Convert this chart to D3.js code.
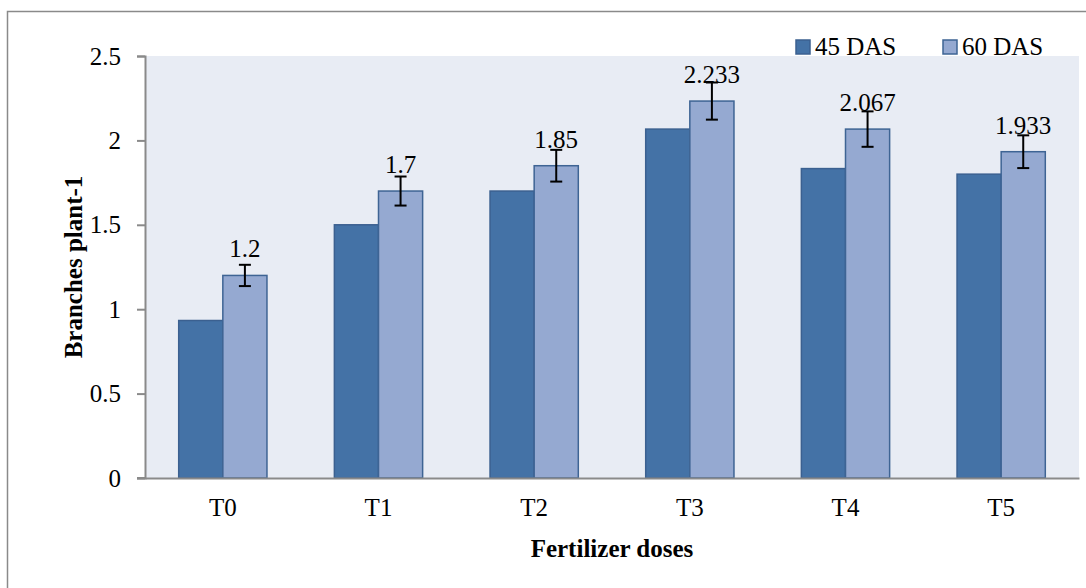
<!DOCTYPE html>
<html>
<head>
<meta charset="utf-8">
<script src="https://cdn.jsdelivr.net/npm/d3@7"></script>
<style>
  html, body { margin: 0; padding: 0; background: #fff; }
  svg { display: block; }
  svg text { font-family: "Liberation Serif", "Times New Roman", serif !important; }
</style>
</head>
<body>
<svg id="chart" width="1086" height="588"></svg>
<script>
const categories = ["T0", "T1", "T2", "T3", "T4", "T5"];
const seriesNames = ["45 DAS", "60 DAS"];
const das45 = [0.933, 1.5, 1.7, 2.067, 1.833, 1.8];
const das60 = [1.2, 1.7, 1.85, 2.233, 2.067, 1.933];
const das60Err = [0.063, 0.086, 0.094, 0.11, 0.105, 0.097];
const dataLabels = ["1.2", "1.7", "1.85", "2.233", "2.067", "1.933"];
const yTicks = [0, 0.5, 1, 1.5, 2, 2.5];

const FONT = "Liberation Serif, Times New Roman, serif";
const svg = d3.select("#chart");
const m = { left: 145, right: 1079, top: 56, bottom: 478 };

// outer border
svg.append("rect").attr("x", 7.5).attr("y", 11.5).attr("width", 1100).attr("height", 600)
  .attr("fill", "#fff").attr("stroke", "#8a8a8a").attr("stroke-width", 1.5);

const x = d3.scaleBand().domain(categories).range([m.left, m.right]).paddingInner(0).paddingOuter(0);
const y = d3.scaleLinear().domain([0, 2.5]).range([m.bottom, m.top]);
const barW = x.bandwidth() * 0.2835;

// plot background
svg.append("rect").attr("x", m.left).attr("y", m.top)
  .attr("width", m.right - m.left).attr("height", m.bottom - m.top)
  .attr("fill", "#E8ECF4");

const colors = ["#4472A6", "#95A9D1"];
const strokes = ["#3B6090", "#3E6494"];
const series = [das45, das60];

series.forEach((vals, si) => {
  svg.append("g").selectAll("rect").data(vals).join("rect")
    .attr("x", (d, i) => x(categories[i]) + x.bandwidth() / 2 - barW + si * barW)
    .attr("y", d => y(d))
    .attr("width", barW)
    .attr("height", d => y(0) - y(d))
    .attr("fill", colors[si])
    .attr("stroke", strokes[si])
    .attr("stroke-width", 1.5);
});

// error bars on 60 DAS
const eg = svg.append("g").attr("stroke", "#000").attr("stroke-width", 2);
das60.forEach((v, i) => {
  const cx = x(categories[i]) + x.bandwidth() / 2 + barW / 2;
  const t = y(v + das60Err[i]), b = y(v - das60Err[i]);
  eg.append("line").attr("x1", cx).attr("x2", cx).attr("y1", t).attr("y2", b);
  eg.append("line").attr("x1", cx - 6).attr("x2", cx + 6).attr("y1", t).attr("y2", t);
  eg.append("line").attr("x1", cx - 6).attr("x2", cx + 6).attr("y1", b).attr("y2", b);
});

// data labels
svg.append("g").selectAll("text").data(das60).join("text")
  .attr("x", (d, i) => x(categories[i]) + x.bandwidth() / 2 + barW / 2)
  .attr("y", d => y(d) - 18)
  .attr("text-anchor", "middle")
  .attr("font-family", FONT)
  .attr("font-size", 25)
  .attr("fill", "#000")
  .text((d, i) => dataLabels[i]);

// y axis
const yAxis = d3.axisLeft(y).tickValues(yTicks).tickSize(8).tickPadding(16).tickFormat(d3.format("~g"));
const yg = svg.append("g").attr("transform", `translate(${m.left},0)`).call(yAxis)
  .attr("font-family", FONT);
yg.select(".domain").attr("stroke", "#8a8a8a").attr("stroke-width", 2);
yg.selectAll(".tick line").attr("stroke", "#8a8a8a").attr("stroke-width", 2);
yg.selectAll(".tick text").attr("font-size", 25).attr("fill", "#000")
  .attr("font-family", FONT).attr("dy", "0.32em");

// x axis
const xAxis = d3.axisBottom(x).tickSize(0).tickPadding(20);
const xg = svg.append("g").attr("transform", `translate(0,${m.bottom})`).call(xAxis)
  .attr("font-family", FONT);
xg.select(".domain").attr("stroke", "#8a8a8a").attr("stroke-width", 2);
xg.selectAll(".tick text").attr("font-size", 25).attr("fill", "#000")
  .attr("font-family", FONT).attr("dy", "0.71em");
svg.append("line").attr("x1", m.left - 8).attr("x2", m.left).attr("y1", m.bottom).attr("y2", m.bottom)
  .attr("stroke", "#8a8a8a").attr("stroke-width", 2);

// axis titles
svg.append("text").attr("x", (m.left + m.right) / 2).attr("y", 557)
  .attr("text-anchor", "middle").attr("font-family", FONT).attr("font-size", 25).attr("font-weight", "bold")
  .text("Fertilizer doses");
svg.append("text").attr("transform", `translate(82,${(m.top + m.bottom) / 2}) rotate(-90)`)
  .attr("text-anchor", "middle").attr("font-family", FONT).attr("font-size", 25).attr("font-weight", "bold")
  .text("Branches plant-1");

// legend
const legX = [796, 943];
seriesNames.forEach((n, i) => {
  svg.append("rect").attr("x", legX[i]).attr("y", 40).attr("width", 14).attr("height", 14)
    .attr("fill", colors[i]).attr("stroke", strokes[i]).attr("stroke-width", 1.5);
  svg.append("text").attr("x", legX[i] + 19).attr("y", 54.5)
    .attr("font-family", FONT).attr("font-size", 25).text(n);
});
</script>
</body>
</html>
